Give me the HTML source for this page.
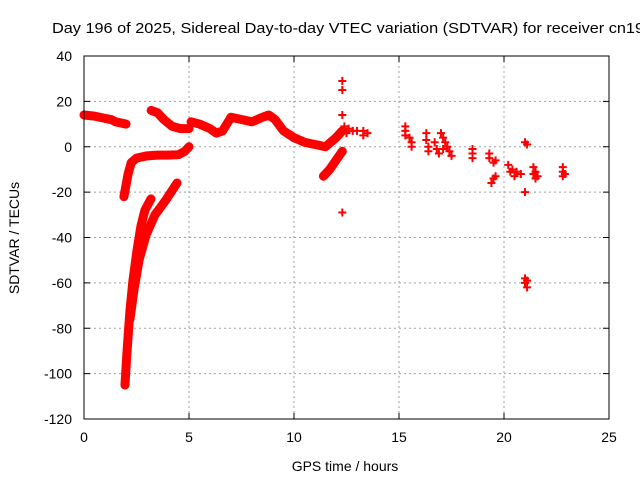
<!DOCTYPE html>
<html><head><meta charset="utf-8"><style>
body{margin:0;background:#fff}
svg{display:block;font-family:"Liberation Sans",sans-serif}
</style></head><body>
<svg id="c" width="640" height="480">
<rect width="640" height="480" fill="#fff"/>
<text x="52" y="33" font-size="15" textLength="592" lengthAdjust="spacingAndGlyphs">Day 196 of 2025, Sidereal Day-to-day VTEC variation (SDTVAR) for receiver cn19</text>
<text x="345" y="471" font-size="14" text-anchor="middle">GPS time / hours</text>
<text transform="translate(19,238) rotate(-90)" font-size="14" text-anchor="middle">SDTVAR / TECUs</text>
<g id="grid"></g><g id="marks"></g>
<rect x="84" y="56" width="525" height="363" fill="none" stroke="#000"/>
</svg>
<script>
const xTicks=[0,5,10,15,20,25];
const yTicks=[40,20,0,-20,-40,-60,-80,-100,-120];
// continuous bands: [hours, sdtvar]
const bandTopLeft=[[0,14],[0.5,13.5],[1,12.5],[1.3,12],[1.5,11],[2,10]];
const bandMorning=[[3.2,16],[3.5,15],[3.8,12],[4.2,9],[4.6,8],[5,8]];
const bandMid=[[5.1,11],[5.5,10],[6,8],[6.3,6],[6.6,7],[6.8,10],[7,13],[7.5,12],[8,11],[8.5,13],[8.8,14],[9.1,12],[9.5,7],[10,4],[10.5,2],[11,1],[11.5,0],[12,4],[12.3,7]];
const bandLowLeft=[[1.9,-22],[2.0,-17],[2.1,-12],[2.25,-7],[2.5,-5],[3,-4],[3.5,-3.7],[4,-3.7],[4.5,-3.5],[4.8,-2],[5,0]];
const bandSteepA=[[1.95,-105],[2.05,-90],[2.19,-72],[2.33,-59],[2.52,-46],[2.71,-35],[2.9,-28],[3.19,-23]];
const bandSteepB=[[2.19,-76],[2.38,-63],[2.62,-50],[2.95,-39],[3.38,-30],[3.86,-24],[4.43,-16]];
const bandNoon=[[11.4,-13],[11.7,-10],[12,-6],[12.3,-2]];
// scattered clusters
const scatterPts=[[12.3,29],[12.3,25],[12.3,14],[12.3,-29],[12.4,9],[12.6,8],[12.8,7],[12.5,6],[13.0,7],[13.3,7],[13.3,5],[13.5,6],
[15.3,9],[15.3,7],[15.3,5],[15.5,4],[15.6,2],[15.6,0],[16.3,6],[16.3,3],[16.4,0],[16.4,-2],[16.7,2],[16.8,-1],[16.9,-3],
[17.0,6],[17.1,4],[17.2,2],[17.3,0],[17.4,-2],[17.5,-4],[17.1,-1],[18.5,-1],[18.5,-3],[18.5,-5],[19.3,-3],[19.3,-5],[19.5,-7],[19.6,-6],
[19.4,-16],[19.5,-14],[19.6,-13],[20.2,-8],[20.4,-10],[20.6,-11],[20.8,-12],[20.5,-13],[20.3,-11],[21.0,2],[21.1,1],[21.0,-20],
[21.4,-9],[21.5,-11],[21.6,-13],[21.5,-14],[21.4,-12],[22.8,-9],[22.8,-11],[22.8,-13],[22.9,-12],[21.0,-58],[21.0,-60],[21.1,-62],[21.1,-59]];
const X=h=>84+h*21, Y=v=>56+(40-v)*363/160;
const NS="http://www.w3.org/2000/svg";
const grid=document.getElementById('grid'),marks=document.getElementById('marks');
function mk(t,a,p){const e=document.createElementNS(NS,t);for(const k in a)e.setAttribute(k,a[k]);p.appendChild(e);return e;}
xTicks.forEach(t=>{const x=X(t);
 if(t>0&&t<25){const g=mk('line',{x1:x,x2:x,y1:56,y2:419,stroke:'#a0a0a0','stroke-dasharray':'2,3'},grid);
 
 }
 mk('line',{x1:x,x2:x,y1:419,y2:413,stroke:'#000'},grid);mk('line',{x1:x,x2:x,y1:56,y2:62,stroke:'#000'},grid);
 const l=mk('text',{x:x,y:442,'font-size':14,'text-anchor':'middle'},grid);l.textContent=t;
 
 });
yTicks.forEach(t=>{const y=Y(t);
 if(t<40&&t>-120){const g=mk('line',{x1:84,x2:609,y1:y,y2:y,stroke:'#a0a0a0','stroke-dasharray':'2,3'},grid);
 
 }
 mk('line',{x1:84,x2:90,y1:y,y2:y,stroke:'#000'},grid);mk('line',{x1:609,x2:603,y1:y,y2:y,stroke:'#000'},grid);
 const l=mk('text',{x:72,y:y+5,'font-size':14,'text-anchor':'end'},grid);l.textContent=t;
 
 });
function plus(h,v){const x=X(h),y=Y(v);
 const p=mk('path',{d:`M${x-4} ${y}h8M${x} ${y-4}v8`,stroke:'#f00','stroke-width':2},marks);
 
 }
[bandTopLeft,bandMorning,bandMid,bandLowLeft,bandSteepA,bandSteepB,bandNoon].forEach(b=>{
 const pl=mk('polyline',{points:b.map(d=>X(d[0])+','+Y(d[1])).join(' '),fill:'none',stroke:'#f00','stroke-width':9,'stroke-linejoin':'round','stroke-linecap':'round'},marks);
 
 
 b.forEach(d=>plus(d[0],d[1]));});
scatterPts.forEach(d=>plus(d[0],d[1]));
</script>
</body></html>
